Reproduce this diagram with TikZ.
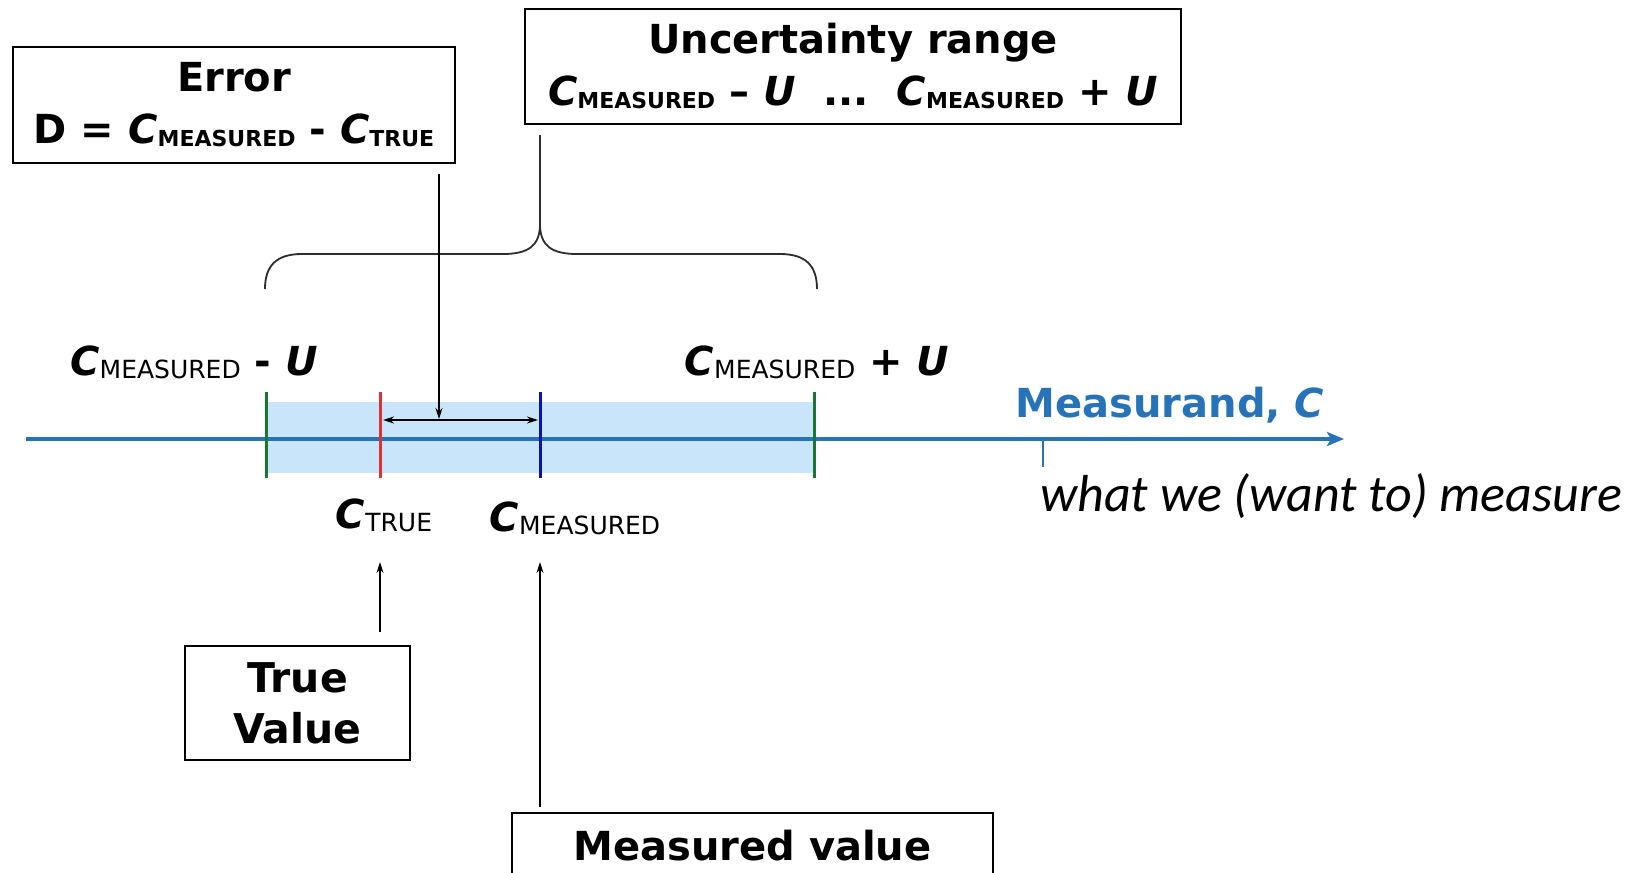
\documentclass[tikz,border=0pt]{standalone}
\usepackage{fontspec}
\setmainfont{DejaVu Sans}
\newfontfamily\carlito{Carlito}
\usetikzlibrary{arrows.meta}

\definecolor{axisblue}{RGB}{38,115,185}
\definecolor{bandblue}{RGB}{200,229,249}
\definecolor{limgreen}{RGB}{22,120,50}
\definecolor{truered}{RGB}{222,50,50}
\definecolor{measblue}{RGB}{10,20,170}
\definecolor{inkgray}{RGB}{45,45,45}

% italic bold symbols and subscripts
\newcommand\Cv{{\bfseries\itshape C}}
\newcommand\Uv{{\bfseries\itshape U}}
\newcommand\subB[1]{\raisebox{-3pt}{\fontsize{22}{22}\selectfont\bfseries\upshape #1}}
\newcommand\subR[1]{\raisebox{-3pt}{\fontsize{25}{25}\selectfont\mdseries\upshape #1}}

\begin{document}
\begin{tikzpicture}[x=1pt,y=-1pt,
  box/.style={draw=black, line width=2pt, align=center, inner sep=0pt,
    font=\fontsize{40}{52}\selectfont\bfseries},
  lbl/.style={inner sep=0pt, font=\fontsize{40}{48}\selectfont\bfseries},
  arr/.style={line width=1.6pt, -{Stealth[length=11pt,width=7pt]}},
  dbl/.style={line width=1.6pt, {Stealth[length=11pt,width=7pt]}-{Stealth[length=11pt,width=7pt]}},
  axis/.style={line width=3.5pt, draw=axisblue, -{Stealth[length=17pt,width=14pt,inset=4pt]}},
  mark line/.style={line width=3pt},
  brace line/.style={line width=1.8pt, draw=inkgray}
]
\clip (0,0) rectangle (1647,873);
\fill[white] (0,0) rectangle (1647,873);

% positions on the measurand axis
\coordinate (axL) at (26,439);
\coordinate (axR) at (1344,439);
\coordinate (lo)  at (266,439);
\coordinate (tru) at (380,439);
\coordinate (mea) at (540,439);
\coordinate (hi)  at (814,439);

% uncertainty band
\fill[bandblue] (266,402) rectangle (814,473);

% axis
\draw[axis] (axL) -- (axR);
\draw[axisblue, line width=1.2pt] (1043,439) -- (1043,467);

% limit, true and measured marks
\draw[mark line, limgreen] ([yshift=47pt]lo) -- ([yshift=-39pt]lo);
\draw[mark line, limgreen] ([yshift=47pt]hi) -- ([yshift=-39pt]hi);
\draw[mark line, truered]  ([yshift=47pt]tru) -- ([yshift=-39pt]tru);
\draw[mark line, measblue] ([yshift=47pt]mea) -- ([yshift=-39pt]mea);

% error span between true and measured values
\coordinate (dL) at (383,420);
\coordinate (dR) at (538,420);
\coordinate (dM) at (439,419);
\draw[dbl] (dL) -- (dR);

% boxes
\node[box, minimum width=442pt, minimum height=116pt] (err) at (234,105)
  {Error\\D = \Cv\subB{MEASURED} - \Cv\subB{TRUE}};
\node[box, minimum width=656pt, minimum height=115pt] (unc) at (853,66)
  {Uncertainty range\\\Cv\subB{MEASURED} -- \Uv\ \ ...\ \ \Cv\subB{MEASURED} + \Uv};
\node[box, minimum width=225pt, minimum height=114pt, font=\fontsize{41}{51}\selectfont\bfseries] (tv) at (297.5,703)
  {True\\Value};
\node[box, anchor=north, minimum width=481pt, text height=47pt, text depth=50pt] (mv) at (752.5,812)
  {Measured value};

% axis labels
\node[lbl, anchor=base] (lmu) at (194,375) {\Cv\subR{MEASURED} - \Uv};
\node[lbl, anchor=base] (lpu) at (817,375) {\Cv\subR{MEASURED} + \Uv};
\node[lbl, anchor=base, text=axisblue] (msr) at (1170,417) {Measurand, \Cv};
\node[lbl, anchor=base] (ctrue) at (384,528) {\Cv\subR{TRUE}};
\node[lbl, anchor=base] (cmeas) at (575,531) {\Cv\subR{MEASURED}};
\node[anchor=base west, inner sep=0pt, font=\carlito\itshape\fontsize{52}{60}\selectfont] (what) at (1040,511)
  {what we (want to) measure};

% brace gathering the uncertainty range
\coordinate (bcusp) at (540,224);
\draw[brace line] (265,289) .. controls (265,266) and (276,254) .. (302,254)
  -- (503,254) .. controls (528,254) and (540,246) .. (bcusp);
\draw[brace line] (817,289) .. controls (817,266) and (806,254) .. (780,254)
  -- (577,254) .. controls (552,254) and (540,246) .. (bcusp);
\draw[brace line] (bcusp) -- ([yshift=-10pt]unc.south -| bcusp);

% pointers
\coordinate (tvTip) at (380,562);
\coordinate (mvTip) at (540,562);
\draw[arr] ([yshift=-10pt]err.south -| dM) -- (dM);
\draw[arr] ([yshift=13pt]tv.north -| tvTip) -- (tvTip);
\draw[arr] ([yshift=5pt]mv.north -| mvTip) -- (mvTip);
\end{tikzpicture}
\end{document}
